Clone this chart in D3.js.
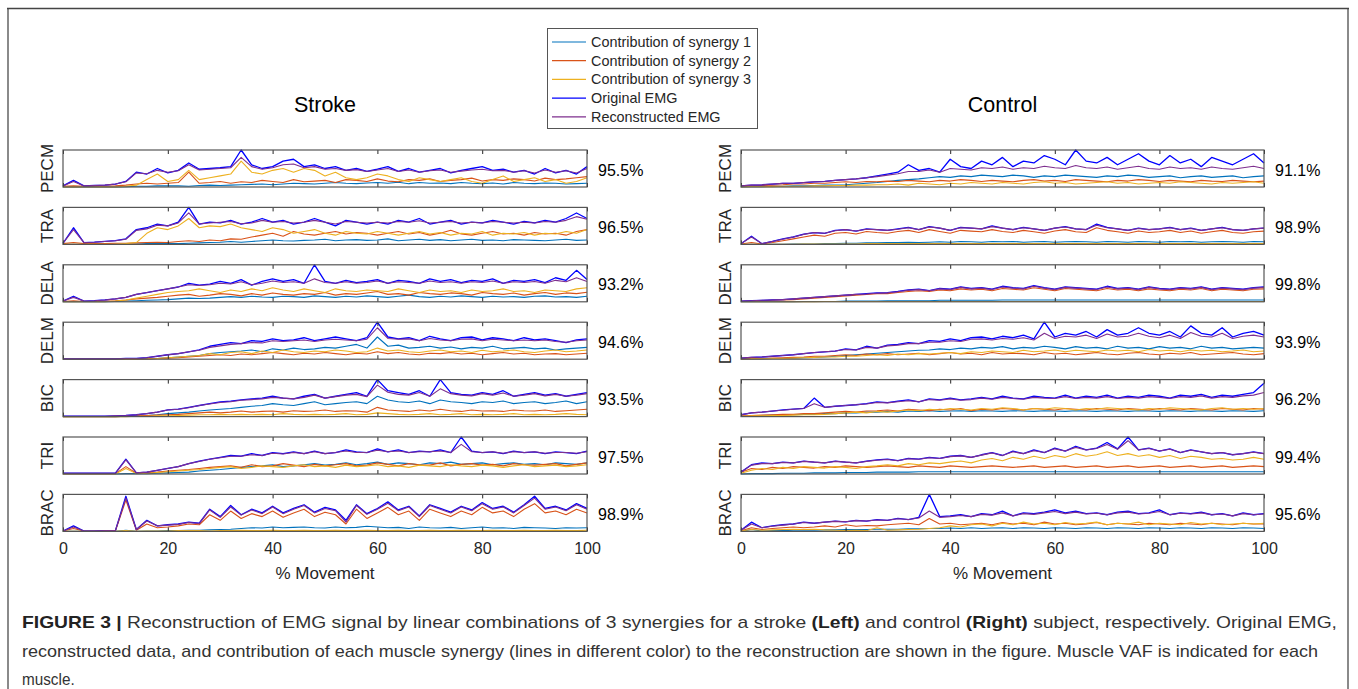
<!DOCTYPE html>
<html>
<head>
<meta charset="utf-8">
<script src="https://cdn.jsdelivr.net/npm/d3@7"></script>
<style>
  body { margin: 0; background: #fff; }
  svg { display: block; font-family: "Liberation Sans", Arial, sans-serif; }
</style>
</head>
<body>
<svg id="fig" width="1358" height="689"></svg>
<script>
// muscles, series and tick labels
const muscles = ["PECM", "TRA", "DELA", "DELM", "BIC", "TRI", "BRAC"];
const seriesNames = ["Contribution of synergy 1", "Contribution of synergy 2", "Contribution of synergy 3", "Original EMG", "Reconstructed EMG"];
const seriesColors = ["#0072BD", "#D95319", "#EDB120", "#0000FF", "#7E2F8E"];
const xTicks = [0, 20, 40, 60, 80, 100];
const strokeVAF = ["95.5%", "96.5%", "93.2%", "94.6%", "93.5%", "97.5%", "98.9%"];
const controlVAF = ["91.1%", "98.9%", "99.8%", "93.9%", "96.2%", "99.4%", "95.6%"];

// each muscle: [synergy 1, synergy 2, synergy 3, original, reconstructed], % of panel height, 0..100% movement
const strokePECM = [
  [0,0,0,0,0,0,1,2,2,3, 3,3,2,4,5,4,5,6,7,8, 6,8,10,9,8,10,12,10,9,11, 12,10,13,9,12,10,11,9,12,10, 9,11,8,12,10,9,11,10,8,9, 10],
  [2,3,2,2,2,3,5,8,10,8, 10,12,40,10,12,15,10,14,12,18, 15,12,20,14,16,18,12,20,18,15, 22,16,14,20,18,22,15,18,20,24, 16,20,18,22,20,16,24,20,22,25, 28],
  [0,0,0,0,0,0,2,5,20,35, 15,20,45,20,25,30,35,70,40,35, 45,50,40,50,45,30,40,25,20,25, 35,30,20,15,25,20,15,20,25,15, 10,20,30,15,20,25,15,20,10,15, 25],
  [3,18,3,4,5,8,15,40,35,50, 38,45,65,48,50,52,55,100,60,50, 55,70,75,55,60,50,55,45,50,42, 48,55,42,50,40,45,50,38,45,50, 55,45,48,40,45,35,50,38,45,35, 55],
  [3,15,3,4,5,8,14,38,36,45, 40,44,60,46,48,50,52,80,55,48, 52,60,62,52,55,48,50,45,47,42, 46,50,42,46,40,44,46,40,43,46, 48,44,45,40,44,38,46,40,44,38, 50]
];
const strokeTRA = [
  [0,0,0,0,0,0,0,1,2,2, 3,2,3,4,5,6,8,6,8,10, 12,10,9,11,12,14,10,12,13,11, 12,15,10,12,14,11,13,10,12,14, 11,12,10,13,12,11,10,12,14,11, 12],
  [2,5,2,2,2,3,3,4,5,6, 5,8,10,8,12,10,15,14,20,25, 30,22,35,28,25,30,35,28,32,30, 25,30,35,28,32,25,30,38,28,25, 30,35,28,30,25,32,28,30,25,35, 40],
  [0,0,0,0,0,0,2,5,30,45, 40,50,70,45,50,48,55,45,40,35, 45,40,30,35,40,30,25,35,30,28, 35,30,25,30,35,28,32,25,30,28, 35,25,30,28,32,25,30,28,35,30, 40],
  [3,45,5,6,8,10,15,40,45,55, 50,60,100,55,60,58,65,55,60,70, 60,65,55,60,70,60,50,65,60,55, 60,55,65,60,70,55,60,65,55,60, 58,65,60,55,62,58,65,60,70,85, 70],
  [3,40,5,6,8,10,14,38,42,52, 50,58,85,55,58,60,62,56,58,65, 60,62,58,60,65,60,55,62,60,58, 60,58,62,60,64,58,60,62,58,60, 58,62,60,58,60,58,62,60,65,75, 68]
];
const strokeDELA = [
  [0,0,0,0,0,1,2,3,4,5, 6,8,10,9,10,12,14,12,15,13, 12,15,14,12,16,14,12,15,13,16, 14,12,15,18,14,12,15,13,16,14, 12,15,13,14,12,15,16,13,14,12, 15],
  [1,3,1,1,2,3,5,8,10,12, 15,18,20,15,18,22,20,16,22,18, 24,20,18,22,20,25,18,22,20,24, 28,20,22,18,25,22,20,24,22,18, 25,22,20,24,18,22,25,20,24,22, 26],
  [0,0,0,0,0,2,5,10,15,20, 25,28,30,35,30,25,32,28,35,30, 38,32,28,35,30,25,35,30,28,32, 30,28,35,30,25,32,28,30,25,32, 28,30,35,28,30,25,32,30,28,35, 38],
  [2,15,2,3,5,8,12,20,25,30, 35,40,50,45,48,55,50,60,45,55, 62,55,60,50,100,55,50,58,52,55, 60,50,58,55,50,62,55,60,52,58, 55,62,50,58,55,60,52,65,58,85, 60],
  [2,12,2,3,5,8,12,20,25,30, 35,40,46,44,46,50,48,54,46,50, 56,52,54,50,62,52,50,54,50,52, 56,50,54,52,50,56,52,54,50,54, 52,56,50,54,52,55,50,58,54,65, 55]
];
const strokeDELM = [
  [0,0,0,0,0,0,0,0,1,2, 4,6,8,10,15,18,20,22,25,20, 28,25,30,26,28,32,30,35,40,30, 60,35,38,30,32,35,30,33,28,32, 30,35,28,30,32,28,30,25,28,30, 32],
  [0,0,0,0,0,0,0,0,1,2, 3,4,6,8,10,12,10,14,12,15, 18,15,12,16,14,18,15,12,16,14, 20,15,18,14,12,16,15,18,14,16, 12,15,18,14,16,12,14,15,12,14, 16],
  [0,0,0,0,0,0,0,0,1,2, 4,6,8,10,15,12,18,20,15,22, 18,25,20,18,22,20,25,22,18,20, 30,22,25,20,18,22,25,20,22,18, 24,20,22,25,20,18,22,25,20,22, 25],
  [1,1,1,1,1,1,2,2,4,8, 12,15,20,25,35,40,45,42,50,48, 55,50,52,58,50,55,60,55,50,58, 100,60,55,58,50,62,55,50,58,60, 52,58,55,50,58,52,55,50,45,52, 55],
  [1,1,1,1,1,1,2,2,4,8, 12,15,20,24,32,36,40,42,45,44, 50,48,50,52,48,52,54,52,50,54, 85,56,54,55,50,56,52,50,54,55, 50,54,52,50,52,50,52,48,46,50, 52]
];
const strokeBIC = [
  [0,0,0,0,0,0,1,2,3,5, 8,10,12,15,18,20,22,25,28,30, 35,32,30,35,40,32,35,38,40,35, 55,45,40,38,42,35,45,40,38,35, 40,38,42,35,38,40,35,38,42,35, 40],
  [0,0,0,0,0,0,1,2,3,4, 5,6,8,10,12,10,12,15,12,14, 15,12,16,14,15,18,14,16,15,12, 25,18,16,14,18,15,20,16,14,18, 15,16,14,18,16,15,18,14,16,18, 20],
  [0,0,0,0,0,0,0,1,1,2, 2,3,4,5,5,6,5,6,5,6, 5,8,6,5,6,5,6,8,5,6, 10,8,6,5,6,8,5,6,8,5, 6,5,6,8,5,6,5,6,8,6, 5],
  [1,1,1,1,1,2,3,5,8,12, 18,20,25,30,35,40,42,45,48,50, 55,50,48,55,60,50,55,60,65,55, 100,70,65,60,70,55,100,65,60,58, 65,60,70,55,60,65,58,62,55,60, 65],
  [1,1,1,1,1,2,3,5,8,12, 18,20,24,30,34,38,40,44,46,48, 52,50,48,52,58,50,54,58,60,54, 85,66,60,58,65,55,75,62,58,56, 62,58,64,55,58,62,56,60,55,58, 62]
];
const strokeTRI = [
  [0,0,0,0,0,0,1,1,1,2, 3,4,5,8,10,12,15,18,20,22, 25,20,22,25,28,24,26,30,25,28, 32,26,30,28,25,30,28,32,26,28, 30,25,28,30,26,28,25,30,28,26, 30],
  [1,1,1,1,1,1,20,2,3,5, 8,10,12,15,18,20,22,18,25,20, 22,28,24,20,26,22,25,28,22,24, 30,26,22,28,25,24,30,22,26,28, 24,26,22,28,25,24,26,28,22,26, 30],
  [0,0,0,0,0,0,15,1,2,4, 6,8,10,12,15,18,20,15,18,22, 20,18,22,25,20,22,18,24,20,22, 25,20,22,18,24,22,20,25,22,20, 24,22,18,22,25,20,22,24,20,22, 25],
  [2,2,2,2,2,2,40,3,5,10, 15,20,28,35,40,45,50,48,55,50, 58,55,60,55,62,55,58,65,60,58, 68,60,65,58,62,60,65,58,100,62, 58,60,55,62,58,60,55,60,58,55, 62],
  [2,2,2,2,2,2,38,3,5,10, 15,20,28,34,40,44,48,48,52,50, 56,54,58,55,60,55,58,62,58,58, 64,60,62,58,60,60,62,58,80,60, 58,60,56,60,58,60,56,58,58,56, 60]
];
const strokeBRAC = [
  [0,0,0,0,0,0,3,0,1,1, 2,2,3,3,4,5,6,8,10,9, 12,10,11,12,10,9,12,10,11,14, 12,10,11,8,12,10,9,11,8,10, 12,9,10,8,11,10,9,8,10,9, 10],
  [1,8,1,1,1,1,85,3,20,10, 12,15,20,18,45,30,55,35,48,40, 55,38,50,60,40,52,45,20,60,35, 50,65,45,55,30,60,50,40,55,45, 65,50,55,40,60,75,50,55,45,60, 50],
  [0,0,0,0,0,0,2,0,1,1, 1,2,2,2,1,2,2,3,2,2, 3,2,2,3,2,2,3,2,2,3, 2,2,3,2,2,3,2,2,3,2, 2,3,2,2,3,2,2,3,2,2, 3],
  [1,15,1,1,2,2,95,5,30,15, 18,20,25,22,60,40,70,45,60,50, 68,50,62,72,52,65,58,30,72,48, 62,80,58,68,42,72,62,52,68,58, 78,62,68,52,72,95,62,68,58,75, 62],
  [1,12,1,1,2,2,90,5,28,15, 17,19,24,21,58,38,66,44,58,48, 66,48,60,70,50,62,56,25,70,46, 60,76,56,66,40,70,60,50,66,56, 75,60,66,50,70,90,60,66,56,72, 60]
];

const controlPECM = [
  [0,1,1,2,2,3,3,4,5,5, 6,8,10,12,15,18,20,22,25,28, 26,30,28,32,30,28,32,30,26,30, 28,32,30,28,26,30,28,32,30,26, 28,30,25,28,30,26,28,30,25,28, 30],
  [2,3,4,5,6,8,8,10,10,12, 14,12,15,14,16,15,18,16,14,18, 16,20,18,15,18,16,14,18,20,16, 18,15,20,18,16,14,18,16,20,18, 15,18,16,14,18,16,15,18,16,14, 16],
  [0,1,1,1,2,2,2,3,3,4, 4,5,5,6,6,8,5,10,8,6, 10,8,12,10,8,12,10,8,12,14, 10,12,8,10,12,14,10,12,8,10, 12,10,14,12,10,8,12,10,12,14, 10],
  [3,5,6,8,10,10,12,14,15,18, 20,22,25,30,35,40,60,45,50,40, 75,55,50,70,60,80,55,70,65,85, 75,60,100,70,65,80,60,75,90,70, 60,85,65,75,55,80,70,60,75,90, 65],
  [3,5,6,8,10,10,12,14,15,18, 20,22,25,28,32,36,42,42,46,40, 50,48,46,52,50,54,48,52,50,56, 52,50,58,52,50,54,48,52,56,50, 48,54,50,52,48,54,50,48,52,56, 50]
];
const controlTRA = [
  [0,0,0,0,0,1,1,1,2,2, 3,3,4,4,5,5,6,5,6,7, 6,8,7,6,8,7,8,6,7,8, 6,7,8,7,6,8,7,6,8,7, 6,8,7,8,6,7,8,7,6,8, 7],
  [1,5,1,5,10,15,20,25,22,30, 32,28,35,32,30,35,38,32,40,35, 30,38,36,34,40,35,32,38,34,30, 36,40,34,32,45,38,34,30,36,32, 34,38,32,36,30,34,38,32,30,34, 36],
  [0,0,0,0,0,0,1,1,1,1, 1,1,2,2,2,2,2,2,2,2, 2,2,2,2,2,2,2,2,2,2, 2,2,2,2,2,2,2,2,2,2, 2,2,2,2,2,2,2,2,2,2, 2],
  [2,22,2,8,15,20,28,32,30,38, 40,36,42,40,38,42,46,40,48,44, 38,46,44,42,50,44,40,46,42,38, 44,48,42,40,55,46,42,38,44,40, 42,46,40,44,38,42,46,40,38,42, 44],
  [2,20,2,8,14,20,27,32,30,37, 40,36,41,40,38,41,45,40,47,44, 38,45,44,42,48,44,40,45,42,38, 44,47,42,40,52,45,42,38,43,40, 42,45,40,43,38,42,45,40,38,42, 44]
];
const controlDELA = [
  [0,0,0,0,0,0,1,1,1,1, 2,2,2,2,3,3,3,3,3,4, 4,4,4,4,4,5,5,5,5,5, 5,5,5,5,5,5,5,5,5,5, 5,5,5,5,5,5,5,5,5,5, 5],
  [1,2,3,4,5,6,8,10,12,14, 16,18,20,22,22,25,28,30,28,32, 30,35,32,34,30,36,34,32,38,34, 30,36,34,32,30,36,32,34,30,35, 32,30,34,32,36,30,34,32,30,34, 35],
  [0,0,0,0,0,0,0,0,1,1, 1,1,1,1,1,1,1,1,1,1, 1,1,1,1,1,1,1,1,1,1, 1,1,1,1,1,1,1,1,1,1, 1,1,1,1,1,1,1,1,1,1, 1],
  [2,3,4,5,6,8,10,12,14,16, 18,20,22,24,25,28,32,34,30,36, 34,40,36,38,34,42,38,36,44,38, 34,40,38,36,34,42,36,38,34,40, 36,34,38,36,40,34,38,36,34,38, 40],
  [2,3,4,5,6,8,10,12,14,16, 18,20,21,23,24,27,31,33,30,35, 33,39,35,37,33,40,37,35,42,37, 33,39,37,35,33,40,35,37,33,39, 35,33,37,35,39,33,37,35,33,37, 39]
];
const controlDELM = [
  [0,1,1,2,2,3,4,5,6,8, 10,12,14,16,18,20,22,24,25,28, 26,30,28,32,30,34,28,32,30,35, 32,28,34,30,32,28,35,30,32,28, 34,30,32,28,35,30,32,28,30,32, 30],
  [1,2,2,3,4,5,6,8,8,10, 12,10,14,12,15,12,14,16,12,15, 18,14,16,12,18,14,16,15,12,18, 14,16,12,15,18,14,12,16,18,14, 12,16,14,18,12,14,16,18,14,12, 15],
  [0,1,1,2,2,3,4,5,6,6, 8,8,10,12,10,14,12,15,14,16, 18,15,20,18,22,20,18,24,20,22, 25,20,24,22,20,25,22,24,20,26, 22,24,20,25,22,24,20,22,25,20, 22],
  [3,5,6,8,10,12,15,18,20,22, 28,25,35,30,38,40,45,42,50,48, 55,50,58,60,55,62,58,65,55,100, 60,70,65,75,60,80,65,70,85,70, 65,75,60,90,70,65,85,60,70,75, 65],
  [3,5,6,8,10,12,15,18,20,22, 26,25,32,30,36,38,42,42,46,46, 50,48,54,55,52,56,54,58,52,70, 56,62,60,65,56,68,60,62,70,62, 58,65,56,72,62,60,70,56,62,65, 60]
];
const controlBIC = [
  [1,2,3,4,4,5,6,6,8,8, 10,10,12,12,14,12,15,14,16,14, 15,16,14,16,15,14,16,15,14,16, 15,14,16,15,14,16,15,14,16,15, 14,16,15,14,16,15,14,16,15,14, 16],
  [2,3,4,5,6,6,8,8,10,12, 14,12,15,16,18,15,20,18,16,20, 18,22,16,20,18,22,20,18,22,20, 18,22,20,18,22,20,18,22,20,18, 22,20,18,22,20,18,22,20,18,22, 20],
  [1,2,2,3,3,4,5,5,6,8, 10,12,10,14,12,15,18,16,20,18, 22,20,18,22,20,24,22,18,22,20, 24,22,18,22,20,24,22,20,18,22, 20,24,22,20,18,22,24,20,22,20, 22],
  [5,10,12,15,18,20,22,50,25,28, 30,32,35,40,38,42,45,40,48,45, 50,45,48,52,48,55,50,48,55,52, 50,58,50,55,52,58,50,55,52,58, 55,50,58,55,60,52,58,55,60,65, 90],
  [5,10,12,15,17,20,22,35,25,28, 30,32,34,38,37,40,43,40,46,44, 48,44,46,50,47,52,49,47,52,50, 49,54,49,52,50,54,49,52,50,54, 52,49,54,52,56,50,54,52,56,58, 65]
];
const controlTRI = [
  [0,1,1,1,2,2,2,3,3,3, 4,4,4,5,5,5,5,6,6,6, 6,6,6,6,6,6,6,6,6,6, 6,6,6,6,6,6,6,6,6,6, 6,6,6,6,6,6,6,6,6,6, 6],
  [5,15,12,18,15,20,18,16,20,18, 22,20,18,20,22,20,18,22,20,18, 22,20,18,20,22,20,18,20,22,18, 20,22,18,20,22,18,20,22,18,20, 22,18,20,22,18,20,22,18,20,22, 20],
  [2,10,15,12,18,15,20,18,16,20, 18,15,20,22,25,22,28,25,30,28, 32,35,30,38,42,36,45,40,48,42, 50,45,55,48,52,60,50,55,48,52, 45,50,42,48,45,40,42,38,40,45, 40],
  [5,25,30,28,32,30,35,32,30,35, 32,30,35,38,40,36,42,40,45,42, 48,50,45,52,58,50,62,55,65,58, 70,62,75,65,70,85,68,100,65,70, 62,68,58,65,60,55,58,52,55,60, 55],
  [5,24,28,28,31,30,34,32,30,34, 32,30,34,37,39,36,41,40,44,42, 47,49,45,51,57,50,60,55,63,58, 68,62,72,65,69,80,67,90,65,69, 62,67,58,64,60,55,58,52,55,59, 55]
];
const controlBRAC = [
  [0,5,1,2,2,3,3,3,4,4, 5,5,5,6,6,6,7,7,8,8, 9,8,10,8,9,10,8,10,9,8, 10,9,8,10,9,8,10,9,8,10, 9,8,10,9,8,10,9,8,10,9, 8],
  [2,10,5,8,10,12,10,12,15,12, 18,14,16,15,18,20,22,18,35,20, 22,18,20,22,18,24,20,22,18,25, 20,22,18,20,24,18,22,20,18,22, 20,18,22,20,18,22,20,18,22,20, 20],
  [1,5,3,4,5,6,5,6,4,3, 2,3,2,10,3,4,5,6,8,10, 15,12,18,20,15,22,18,25,20,22, 18,24,20,22,25,18,22,20,25,18, 22,20,18,24,20,22,18,20,22,20, 22],
  [3,25,10,15,18,20,25,22,25,28, 26,30,28,32,30,35,32,38,100,40, 42,45,40,48,45,55,42,50,48,52, 58,50,55,48,50,45,52,55,48,50, 58,45,50,48,52,45,48,42,50,45, 48],
  [3,20,10,14,17,20,24,22,25,27, 26,29,28,31,30,34,32,36,55,38, 40,43,40,46,44,50,42,48,46,50, 54,48,52,47,49,45,50,52,47,49, 54,45,49,47,50,45,47,42,48,45, 47]
];

const strokeRows = [strokePECM, strokeTRA, strokeDELA, strokeDELM, strokeBIC, strokeTRI, strokeBRAC];
const controlRows = [controlPECM, controlTRA, controlDELA, controlDELM, controlBIC, controlTRI, controlBRAC];

const svg = d3.select("#fig");
const ink = "#262626";

// figure frame
svg.append("path").attr("d", "M8,689 V8.5").attr("stroke", "#8a8a8a").attr("stroke-width", 2).attr("fill", "none");
svg.append("path").attr("d", "M1348,689 V8.5").attr("stroke", "#8a8a8a").attr("stroke-width", 2).attr("fill", "none");
svg.append("path").attr("d", "M7,8.5 H1349").attr("stroke", "#444").attr("stroke-width", 1.5).attr("fill", "none");

const panelTop = 150, panelStep = 57.4, panelH = 37;

const sides = [
  { title: "Stroke", x0: 63, x1: 587, rows: strokeRows, vaf: strokeVAF },
  { title: "Control", x0: 741, x1: 1264, rows: controlRows, vaf: controlVAF }
];

sides.forEach(side => {
  const x = d3.scaleLinear().domain([0, 100]).range([side.x0, side.x1]);
  const g = svg.append("g");

  g.append("text")
    .attr("x", (side.x0 + side.x1) / 2)
    .attr("y", 112)
    .attr("text-anchor", "middle")
    .attr("font-size", 21.5)
    .attr("fill", "#000")
    .text(side.title);

  side.rows.forEach((series, r) => {
    const top = panelTop + r * panelStep;
    const y = d3.scaleLinear().domain([0, 100]).range([top + panelH, top]);
    const last = r === side.rows.length - 1;

    const line = d3.line()
      .x((d, i, arr) => x(i * 100 / (arr.length - 1)))
      .y(d => y(d));

    const p = g.append("g");

    p.selectAll("path.series")
      .data(series)
      .enter().append("path")
      .attr("class", "series")
      .attr("d", d => line(d))
      .attr("fill", "none")
      .attr("stroke", (d, i) => seriesColors[i])
      .attr("stroke-width", (d, i) => i === 3 ? 1.3 : 1.1)
      .attr("stroke-linejoin", "round");

    const bottomAxis = d3.axisBottom(x).tickValues(xTicks)
      .tickSizeInner(-4).tickSizeOuter(0).tickPadding(11)
      .tickFormat(last ? d3.format("d") : () => "");
    const ba = p.append("g").attr("transform", `translate(0,${top + panelH})`).call(bottomAxis);
    const topAxis = d3.axisTop(x).tickValues(xTicks)
      .tickSizeInner(-4).tickSizeOuter(0).tickFormat(() => "");
    const ta = p.append("g").attr("transform", `translate(0,${top})`).call(topAxis);
    [ba, ta].forEach(a => {
      a.select(".domain").remove();
      a.selectAll(".tick line").attr("stroke", ink);
      a.selectAll(".tick text").attr("fill", ink).attr("font-size", 16)
        .attr("font-family", "'Liberation Sans', Arial, sans-serif");
    });

    p.append("rect")
      .attr("x", side.x0).attr("y", top)
      .attr("width", side.x1 - side.x0).attr("height", panelH)
      .attr("fill", "none").attr("stroke", "#555").attr("stroke-width", 1.2);

    p.append("text")
      .attr("transform", `translate(${side.x0 - 10},${top + panelH / 2}) rotate(-90)`)
      .attr("text-anchor", "middle")
      .attr("font-size", 17)
      .attr("fill", ink)
      .text(muscles[r]);

    p.append("text")
      .attr("x", side.x1 + 11)
      .attr("y", top + panelH / 2 + 7)
      .attr("font-size", 16)
      .attr("fill", "#000")
      .text(side.vaf[r]);
  });

  g.append("text")
    .attr("x", (side.x0 + side.x1) / 2)
    .attr("y", 579)
    .attr("text-anchor", "middle")
    .attr("font-size", 17)
    .attr("fill", ink)
    .text("% Movement");
});

// legend
const legend = svg.append("g");
legend.append("rect")
  .attr("x", 547.5).attr("y", 28.5).attr("width", 210).attr("height", 100)
  .attr("fill", "#fff").attr("stroke", "#555").attr("stroke-width", 1);
seriesNames.forEach((name, i) => {
  const cy = 42 + i * 18.7;
  legend.append("line")
    .attr("x1", 552).attr("x2", 586).attr("y1", cy).attr("y2", cy)
    .attr("stroke", seriesColors[i]).attr("stroke-width", 1.2);
  legend.append("text")
    .attr("x", 591).attr("y", cy).attr("dy", "0.35em")
    .attr("font-size", 14.4).attr("fill", ink)
    .text(name);
});

// caption
const captionLines = [
  { end: 1337, parts: [["FIGURE 3 | ", true], ["Reconstruction of EMG signal by linear combinations of 3 synergies for a stroke ", false], ["(Left)", true], [" and control ", false], ["(Right)", true], [" subject, respectively. Original EMG,", false]] },
  { end: 1318, parts: [["reconstructed data, and contribution of each muscle synergy (lines in different color) to the reconstruction are shown in the figure. Muscle VAF is indicated for each", false]] },
  { end: null, parts: [["muscle.", false]] }
];
captionLines.forEach((ln, k) => {
  const t = svg.append("text")
    .attr("x", 22).attr("y", 628 + k * 28.5)
    .attr("font-size", 17).attr("fill", "#333");
  ln.parts.forEach(([s, bold]) => {
    t.append("tspan").attr("font-weight", bold ? "bold" : null).attr("fill", bold ? "#222" : null).text(s);
  });
  if (ln.end) {
    const target = ln.end - 22;
    t.attr("textLength", target).attr("lengthAdjust", "spacingAndGlyphs");
  } else {
    t.attr("transform", "translate(22,0) scale(0.9,1) translate(-22,0)");
  }
});
</script>
</body>
</html>
